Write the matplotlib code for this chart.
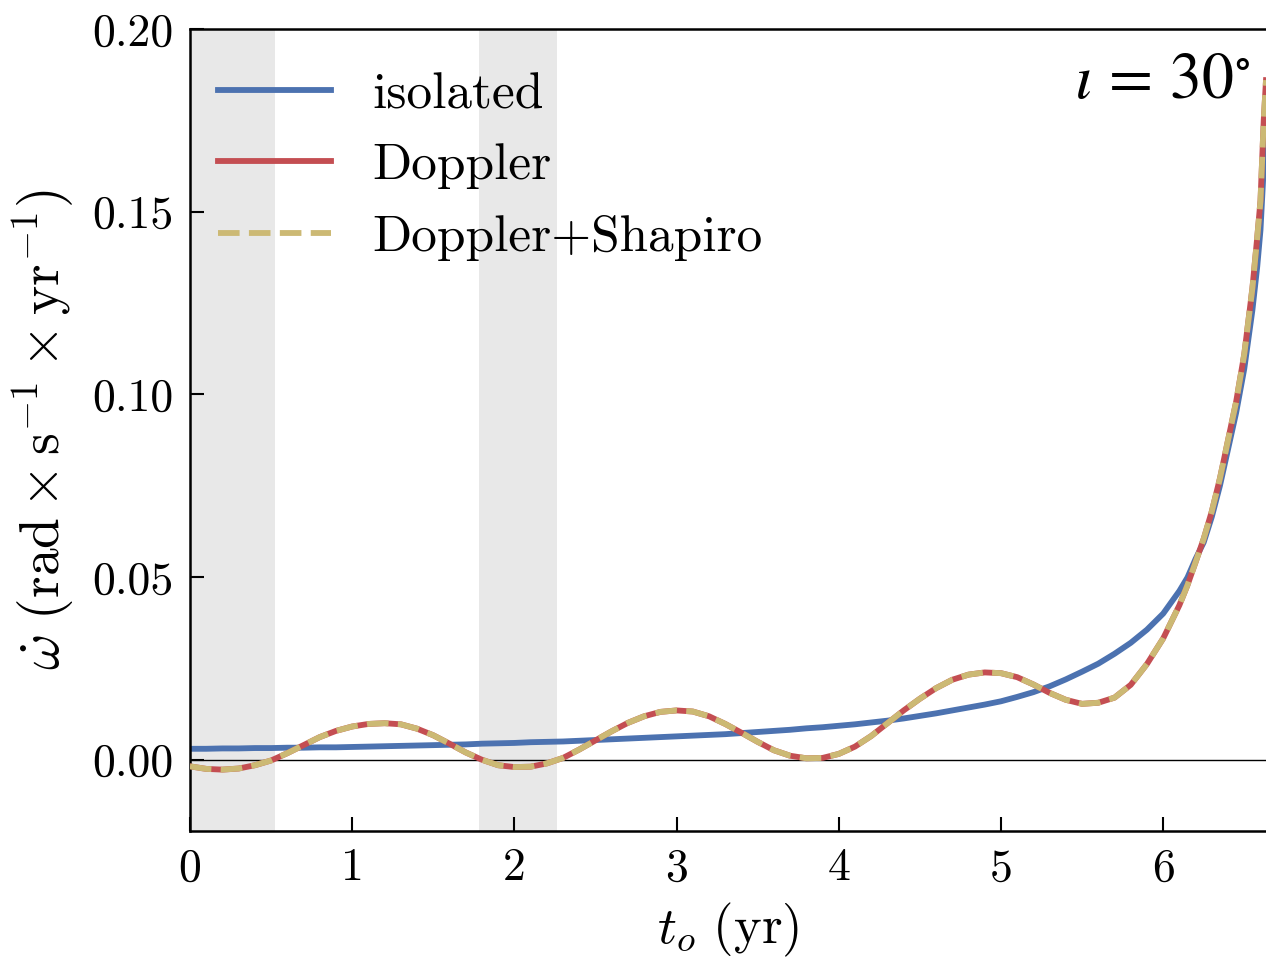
import matplotlib
matplotlib.use("Agg")
import matplotlib.pyplot as plt

plt.rcParams.update({
    "font.family": "serif",
    "font.serif": ["cmr10"],
    "mathtext.fontset": "cm",
    "axes.unicode_minus": False,
    "axes.formatter.use_mathtext": True,
})

# observer time (yr)
t_obs = [0.0, 0.1, 0.2, 0.3, 0.4, 0.5, 0.6, 0.7, 0.8, 0.9,
         1.0, 1.1, 1.2, 1.3, 1.4, 1.5, 1.6, 1.7, 1.8, 1.9,
         2.0, 2.1, 2.2, 2.3, 2.4, 2.5, 2.6, 2.7, 2.8, 2.9,
         3.0, 3.1, 3.2, 3.3, 3.4, 3.5, 3.6, 3.7, 3.8, 3.9,
         4.0, 4.1, 4.2, 4.3, 4.4, 4.5, 4.6, 4.7, 4.8, 4.9,
         5.0, 5.1, 5.2, 5.3, 5.4, 5.5, 5.6, 5.7, 5.8, 5.9,
         6.0, 6.1, 6.15, 6.2, 6.25, 6.3, 6.35, 6.4, 6.45, 6.5,
         6.55, 6.58, 6.6, 6.62, 6.634]

# isolated binary
omega_dot_isolated = [0.0030, 0.0030, 0.0031, 0.0031, 0.0032, 0.0032, 0.0033, 0.0033, 0.0034, 0.0034,
                      0.0035, 0.0036, 0.0037, 0.0038, 0.0039, 0.0040, 0.0041, 0.0042, 0.0044, 0.0045,
                      0.0046, 0.0048, 0.0049, 0.0050, 0.0052, 0.0054, 0.0056, 0.0058, 0.0060, 0.0062,
                      0.0064, 0.0066, 0.0068, 0.0070, 0.0073, 0.0076, 0.0079, 0.0082, 0.0086, 0.0089,
                      0.0093, 0.0097, 0.0102, 0.0107, 0.0113, 0.0120, 0.0127, 0.0135, 0.0143, 0.0151,
                      0.0160, 0.0172, 0.0185, 0.0201, 0.0220, 0.0241, 0.0263, 0.0290, 0.0320, 0.0356,
                      0.0400, 0.0462, 0.0499, 0.0550, 0.0595, 0.0665, 0.0750, 0.0850, 0.0950, 0.1070,
                      0.1230, 0.1350, 0.1450, 0.1620, 0.1760]

# with Doppler modulation from the outer orbit
omega_dot_doppler = [-0.0018, -0.0025, -0.0027, -0.0024, -0.0015, -0.0002, 0.0018, 0.0040, 0.0062, 0.0079,
                     0.0091, 0.0098, 0.0100, 0.0097, 0.0085, 0.0067, 0.0044, 0.0020, 0.0000, -0.0015,
                     -0.0020, -0.0019, -0.0010, 0.0005, 0.0028, 0.0053, 0.0078, 0.0101, 0.0119, 0.0131,
                     0.0135, 0.0132, 0.0119, 0.0098, 0.0074, 0.0049, 0.0026, 0.0011, 0.0004, 0.0005,
                     0.0016, 0.0036, 0.0065, 0.0100, 0.0135, 0.0167, 0.0196, 0.0219, 0.0233, 0.0239,
                     0.0237, 0.0226, 0.0206, 0.0183, 0.0164, 0.0153, 0.0156, 0.0170, 0.0205, 0.0262,
                     0.0332, 0.0423, 0.0478, 0.0541, 0.0605, 0.0680, 0.0770, 0.0875, 0.0980, 0.1110,
                     0.1290, 0.1430, 0.1530, 0.1750, 0.1860]

# Doppler + Shapiro delay (Shapiro contribution is below the line width here)
omega_dot_doppler_shapiro = list(omega_dot_doppler)

# shaded observing gaps (yr)
shaded_spans = [(0.0, 0.524), (1.78, 2.265)]

x_ticks = [0, 1, 2, 3, 4, 5, 6]
y_ticks = [0.00, 0.05, 0.10, 0.15, 0.20]

fig = plt.figure(figsize=(12.66, 9.58), dpi=100)
ax = fig.add_axes([190 / 1266, 1 - 831 / 958, 1 - 190 / 1266, (831 - 29) / 958])

for x0, x1 in shaded_spans:
    ax.axvspan(x0, x1, color="lightgray", alpha=0.5, lw=0, zorder=0)

ax.axhline(0.0, color="black", lw=1.0, zorder=1)

ax.plot(t_obs, omega_dot_isolated, color="#4C72B0", lw=4.2, label="isolated", zorder=2)
ax.plot(t_obs, omega_dot_doppler, color="#C44E52", lw=4.2, label="Doppler", zorder=3)
ax.plot(t_obs, omega_dot_doppler_shapiro, color="#CCB974", lw=4.2, ls="--",
        label="Doppler+Shapiro", zorder=4)

ax.set_xlim(0, 6.634)
ax.set_ylim(-0.0195, 0.20)
ax.set_xticks(x_ticks)
ax.set_yticks(y_ticks)
ax.set_xticklabels([f"{v:d}" for v in x_ticks])
ax.set_yticklabels([f"{v:.2f}" for v in y_ticks])
ax.tick_params(direction="in", length=10, width=1.5, labelsize=33, pad=12,
               top=False, right=False)

for side in ("left", "bottom", "top"):
    ax.spines[side].set_linewidth(1.8)
ax.spines["right"].set_visible(False)

ax.set_xlabel(r"$t_o\ (\mathrm{yr})$", fontsize=38, labelpad=8)
ax.set_ylabel(r"$\dot{\omega}\ (\mathrm{rad} \times \mathrm{s}^{-1} \times \mathrm{yr}^{-1})$",
              fontsize=40, labelpad=11)

ax.text(0.985, 0.914, r"$\iota\,=\,30^{\circ}$", transform=ax.transAxes,
        ha="right", va="baseline", fontsize=46, math_fontfamily="stix")

ax.legend(loc="upper left", bbox_to_anchor=(0.026, 0.946), frameon=False,
          fontsize=37, handlelength=2.2, handletextpad=0.8, labelspacing=0.49,
          borderpad=0, borderaxespad=0)

fig.savefig("out.png", dpi=100)
